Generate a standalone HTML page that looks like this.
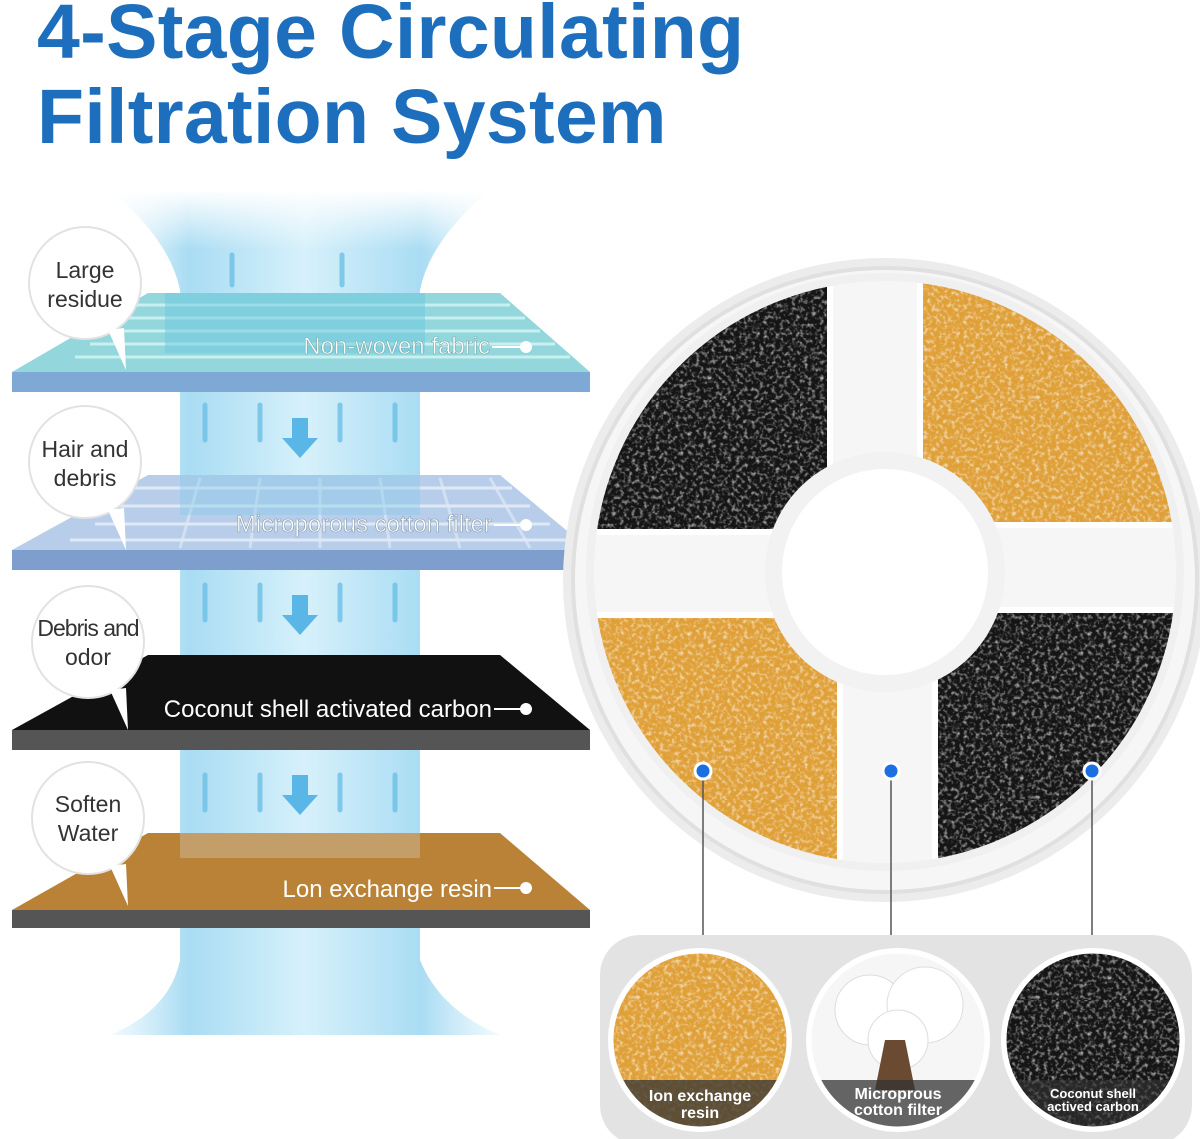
<!DOCTYPE html>
<html><head><meta charset="utf-8"><style>
body{margin:0;width:1200px;height:1139px;background:#fff;overflow:hidden;font-family:"Liberation Sans",sans-serif;position:relative}
.t{position:absolute;left:37px;color:#1d6fbd;font-weight:bold;font-size:77px;line-height:1;letter-spacing:0.3px}
</style></head><body>
<div class="t" style="top:-6px">4-Stage Circulating</div>
<div class="t" style="top:79px">Filtration System</div>
<svg width="1200" height="1139" style="position:absolute;left:0;top:0" xmlns="http://www.w3.org/2000/svg">
<defs>
<linearGradient id="col" x1="0" x2="1" y1="0" y2="0">
<stop offset="0" stop-color="#bfe6f7" stop-opacity="0.2"/><stop offset="0.2" stop-color="#a9dcf3"/><stop offset="0.5" stop-color="#d6f1fb"/><stop offset="0.8" stop-color="#a9dcf3"/><stop offset="1" stop-color="#bfe6f7" stop-opacity="0.2"/></linearGradient>
<linearGradient id="fade" x1="0" x2="0" y1="0" y2="1"><stop offset="0" stop-color="#fff" stop-opacity="1"/><stop offset="1" stop-color="#fff" stop-opacity="0"/></linearGradient>
<filter id="grain" x="0" y="0" width="100%" height="100%"><feTurbulence type="fractalNoise" baseFrequency="0.25" numOctaves="2" seed="3"/><feColorMatrix type="matrix" values="0 0 0 0 1  0 0 0 0 1  0 0 0 0 1  0 0 0 1.6 -0.75"/><feComposite in2="SourceGraphic" operator="in"/></filter>
<pattern id="blk" width="200" height="200" patternUnits="userSpaceOnUse"><rect width="200" height="200" fill="#151515"/><rect width="200" height="200" fill="#666" filter="url(#grain)"/></pattern>
<pattern id="org" width="200" height="200" patternUnits="userSpaceOnUse"><rect width="200" height="200" fill="#e0a038"/><rect width="200" height="200" fill="#f8d88a" filter="url(#grain)"/></pattern>
<clipPath id="outer"><circle cx="885" cy="572" r="295"/></clipPath>
<clipPath id="c1"><circle cx="700" cy="1040" r="88"/></clipPath>
<clipPath id="c2"><circle cx="898" cy="1040" r="88"/></clipPath>
<clipPath id="c3"><circle cx="1093" cy="1040" r="88"/></clipPath>
</defs>
<path d="M110 190 L490 190 Q430 240 420 290 L420 960 Q440 1010 500 1035 L110 1035 Q170 1010 180 960 L180 290 Q170 240 110 190Z" fill="url(#col)"/>
<rect x="100" y="190" width="400" height="60" fill="url(#fade)"/>
<g stroke="#6cc0e6" stroke-width="5" stroke-linecap="round" opacity="0.8">
<path d="M205 405v35M260 405v35M340 405v35M395 405v35M205 585v35M260 585v35M340 585v35M395 585v35M205 775v35M260 775v35M340 775v35M395 775v35M232 255v30M342 255v30"/></g>
<g fill="#5ab6e6"><path d="M292 418h16v20h10l-18 20-18-20h10z"/><path d="M292 595h16v20h10l-18 20-18-20h10z"/><path d="M292 775h16v20h10l-18 20-18-20h10z"/></g>
<path d="M12 372 L590 372 L590 392 L12 392Z" fill="#7ea9d4"/>
<path d="M148 293 L500 293 L590 372 L12 372Z" fill="#93d6dc"/>
<g stroke="#c9f0f0" stroke-width="3"><path d="M135 305H510M120 318H525M105 331H540M90 344H555M75 357H570"/></g>
<rect x="165" y="293" width="260" height="60" fill="#6cc7e0" opacity="0.5"/>
<path d="M12 550 L590 550 L590 570 L12 570Z" fill="#7e9fce"/>
<path d="M148 475 L500 475 L590 550 L12 550Z" fill="#b7cdea"/>
<g stroke="#dfe9f6" stroke-width="3"><path d="M135 488H512M115 506H530M95 524H550M70 540H570"/><path d="M200 478L180 548M260 478L250 548M320 478L320 548M380 478L390 548M440 478L460 548M490 478L530 548" opacity="0.7"/></g>
<rect x="180" y="475" width="240" height="40" fill="#8ccbea" opacity="0.45"/>
<path d="M12 730 L590 730 L590 750 L12 750Z" fill="#555"/>
<path d="M148 655 L500 655 L590 730 L12 730Z" fill="#111"/>
<path d="M12 910 L590 910 L590 928 L12 928Z" fill="#555"/>
<path d="M148 833 L500 833 L590 910 L12 910Z" fill="#b98236"/>
<rect x="180" y="833" width="240" height="25" fill="#c9b18a" opacity="0.6"/>
<g font-family="Liberation Sans,sans-serif" font-size="24" fill="#fff">
<text x="490" y="354" text-anchor="end" stroke="#7aa" stroke-width="0.6">Non-woven fabric</text>
<text x="492" y="532" text-anchor="end" stroke="#89a" stroke-width="0.6">Microporous cotton filter</text>
<text x="492" y="717" text-anchor="end">Coconut shell activated carbon</text>
<text x="492" y="897" text-anchor="end">Lon exchange resin</text></g>
<g stroke="#fff" stroke-width="2" fill="#fff"><path d="M492 347h32M494 525h30M494 709h30M494 888h30"/><circle cx="526" cy="347" r="5"/><circle cx="526" cy="525" r="5"/><circle cx="526" cy="709" r="5"/><circle cx="526" cy="888" r="5"/></g>
<g fill="#fff" stroke="#e2e2e2" stroke-width="2">
<circle cx="85" cy="283" r="56"/><circle cx="85" cy="462" r="56"/><circle cx="88" cy="642" r="56"/><circle cx="88" cy="818" r="56"/></g>
<g fill="#fff"><path d="M108 330l18 40-2-42z"/><path d="M108 510l18 40-2-42z"/><path d="M110 690l18 40-2-42z"/><path d="M110 866l18 40-2-42z"/></g>
<g font-family="Liberation Sans,sans-serif" font-size="23" fill="#333" text-anchor="middle">
<text x="85" y="278">Large</text><text x="85" y="307">residue</text>
<text x="85" y="457">Hair and</text><text x="85" y="486">debris</text>
<text x="88" y="636" letter-spacing="-1">Debris and</text><text x="88" y="665">odor</text>
<text x="88" y="812">Soften</text><text x="88" y="841">Water</text></g>
<circle cx="885" cy="580" r="322" fill="#ececec"/>
<circle cx="885" cy="580" r="312" fill="#f6f6f6" stroke="#e0e0e0" stroke-width="4"/>
<g clip-path="url(#outer)" stroke="#fff" stroke-width="6">
<rect x="580" y="270" width="250" height="262" fill="url(#blk)"/>
<rect x="920" y="270" width="260" height="255" fill="url(#org)"/>
<rect x="580" y="615" width="260" height="260" fill="url(#org)"/>
<rect x="935" y="610" width="245" height="262" fill="url(#blk)"/>
</g>
<circle cx="885" cy="572" r="295" fill="none" stroke="#f0f0f0" stroke-width="8"/>
<circle cx="885" cy="572" r="120" fill="#f2f2f2"/>
<circle cx="885" cy="572" r="103" fill="#fff"/>
<g stroke="#555" stroke-width="1.5"><path d="M703 771V948M891 771V948M1092 771V948"/></g>
<g fill="#1b6fe0" stroke="#fff" stroke-width="3"><circle cx="703" cy="771" r="8"/><circle cx="891" cy="771" r="8"/><circle cx="1092" cy="771" r="8"/></g>
<rect x="600" y="935" width="592" height="210" rx="40" fill="#e3e3e3"/>
<g fill="#fff"><circle cx="700" cy="1040" r="92"/><circle cx="898" cy="1040" r="92"/><circle cx="1093" cy="1040" r="92"/></g>
<g clip-path="url(#c1)"><rect x="600" y="940" width="200" height="200" fill="url(#org)"/><rect x="600" y="1080" width="200" height="60" fill="#333" opacity="0.75"/></g>
<g clip-path="url(#c2)"><rect x="800" y="940" width="200" height="200" fill="#f6f6f6"/><circle cx="870" cy="1010" r="35" fill="#fff" stroke="#ddd"/><circle cx="925" cy="1005" r="38" fill="#fff" stroke="#ddd"/><circle cx="898" cy="1040" r="30" fill="#fff" stroke="#ddd"/><path d="M885 1040 L905 1040 L915 1090 L875 1090Z" fill="#6b4a32"/><rect x="800" y="1080" width="200" height="60" fill="#333" opacity="0.75"/></g>
<g clip-path="url(#c3)"><rect x="995" y="940" width="200" height="200" fill="url(#blk)"/><rect x="995" y="1080" width="200" height="60" fill="#333" opacity="0.6"/></g>
<g fill="none" stroke="#fff" stroke-width="3"><circle cx="700" cy="1040" r="88"/><circle cx="898" cy="1040" r="88"/><circle cx="1093" cy="1040" r="88"/></g>
<g font-family="Liberation Sans,sans-serif" font-weight="bold" fill="#fff" text-anchor="middle">
<text x="700" y="1101" font-size="16">Ion exchange</text><text x="700" y="1118" font-size="16">resin</text>
<text x="898" y="1099" font-size="16">Microprous</text><text x="898" y="1115" font-size="16">cotton filter</text>
<text x="1093" y="1098" font-size="13">Coconut shell</text><text x="1093" y="1111" font-size="13">actived carbon</text></g>
</svg>
</body></html>
